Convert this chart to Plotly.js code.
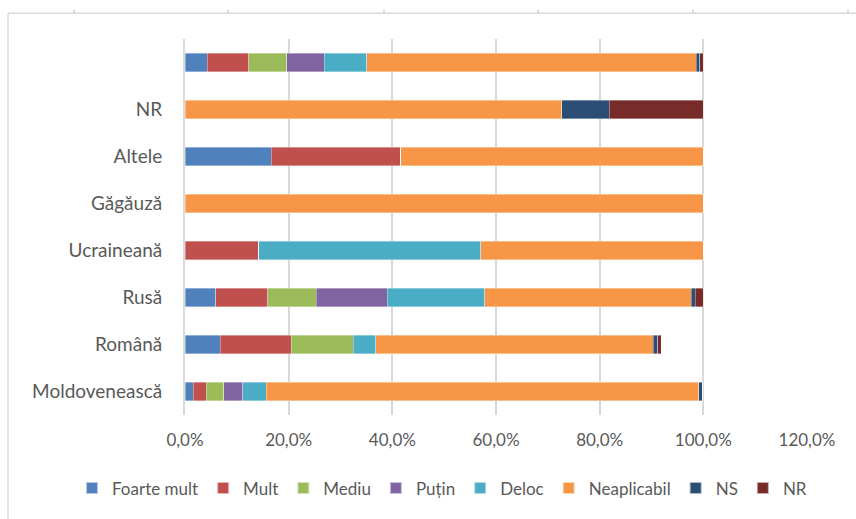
<!DOCTYPE html>
<html><head><meta charset="utf-8">
<script src="https://cdn.plot.ly/plotly-3.0.1.min.js"></script>
<style>html,body{margin:0;padding:0;background:#fff}#c{width:856px;height:519px}</style>
</head><body><div id="c"></div>
<script>
const categories = ["Moldovenească","Română","Rusă","Ucraineană","Găgăuză","Altele","NR","Total"];
const tickLabels = ["Moldovenească","Română","Rusă","Ucraineană","Găgăuză","Altele","NR",""];
const seriesNames = ["Foarte mult","Mult","Mediu","Puțin","Deloc","Neaplicabil","NS","NR"];
const foarteMult = [1.6, 6.8, 5.9, 0, 0, 16.6, 0, 4.3];
const mult       = [2.5, 13.7, 10.1, 14.2, 0, 25.0, 0, 8.0];
const mediu      = [3.4, 12.0, 9.3, 0, 0, 0, 0, 7.3];
const putin      = [3.6, 0, 13.7, 0, 0, 0, 0, 7.3];
const deloc      = [4.6, 4.3, 18.8, 42.9, 0, 0, 0, 8.2];
const neaplicabil= [83.4, 53.5, 39.9, 42.9, 100, 58.4, 72.7, 63.5];
const ns         = [0.7, 0.9, 0.7, 0, 0, 0, 9.1, 0.7];
const nr         = [0, 0.7, 1.6, 0, 0, 0, 18.2, 0.7];
const colors = ["#4F81BD","#C0504D","#9BBB59","#8064A2","#4BACC6","#F79646","#2C4D75","#772C2A"];
const series = [foarteMult, mult, mediu, putin, deloc, neaplicabil, ns, nr];

const traces = series.map((vals, i) => ({
  type: 'bar', orientation: 'h', name: seriesNames[i],
  y: categories, x: vals,
  marker: {color: colors[i], line: {color: 'rgba(255,255,255,0.6)', width: 0.6}},
  hoverinfo: 'name+x'
}));

const gy = '#d9d9d9';
const topTicks = [74, 228, 384, 538, 693, 848];
const T = 39, B = 418;
const pxX = px => (px - 185) / 622;
const pxY = py => (B - py) / (B - T);
const shapes = [
  {type:'line', xref:'paper', yref:'paper', x0:pxX(8), x1:pxX(8), y0:pxY(13), y1:pxY(525), line:{color:gy, width:1.5}},
  {type:'line', xref:'paper', yref:'paper', x0:pxX(8), x1:pxX(860), y0:pxY(13), y1:pxY(13), line:{color:gy, width:1.5}}
].concat(topTicks.map(t => ({type:'line', xref:'paper', yref:'paper', x0:pxX(t), x1:pxX(t), y0:pxY(9), y1:pxY(13), line:{color:'#bfbfbf', width:1}})));

const layout = {
  width: 856, height: 519,
  margin: {l: 185, r: 49, t: T, b: 519 - B},
  paper_bgcolor: '#fff', plot_bgcolor: '#fff',
  barmode: 'stack', bargap: 0.6,
  font: {family: 'Lato, "Open Sans", sans-serif', color: '#595959', size: 15},
  xaxis: {
    range: [0, 120], tickvals: [0,20,40,60,80,100,120],
    ticktext: ["0,0%","20,0%","40,0%","60,0%","80,0%","100,0%","120,0%"],
    showgrid: true, gridcolor: gy, gridwidth: 2, zeroline: false,
    showline: false, ticks: '', tickfont: {size: 17, color: '#595959'}, ticklabelstandoff: 13
  },
  yaxis: {
    type: 'category', categoryorder: 'array', categoryarray: categories,
    tickmode: 'array', tickvals: categories, ticktext: tickLabels,
    showgrid: false, zeroline: false, showline: true, linecolor: gy, linewidth: 2,
    ticks: '', ticklabelstandoff: 17, tickfont: {size: 19, color: '#595959'}
  },
  legend: {
    orientation: 'h', x: pxX(72), xanchor: 'left', y: pxY(492), yanchor: 'middle',
    traceorder: 'normal', font: {size: 17, color: '#595959'},
    itemwidth: 30, itemsizing: 'constant'
  },
  shapes: shapes,
  showlegend: true
};
Plotly.newPlot('c', traces, layout, {displayModeBar: false, staticPlot: true});
</script></body></html>
